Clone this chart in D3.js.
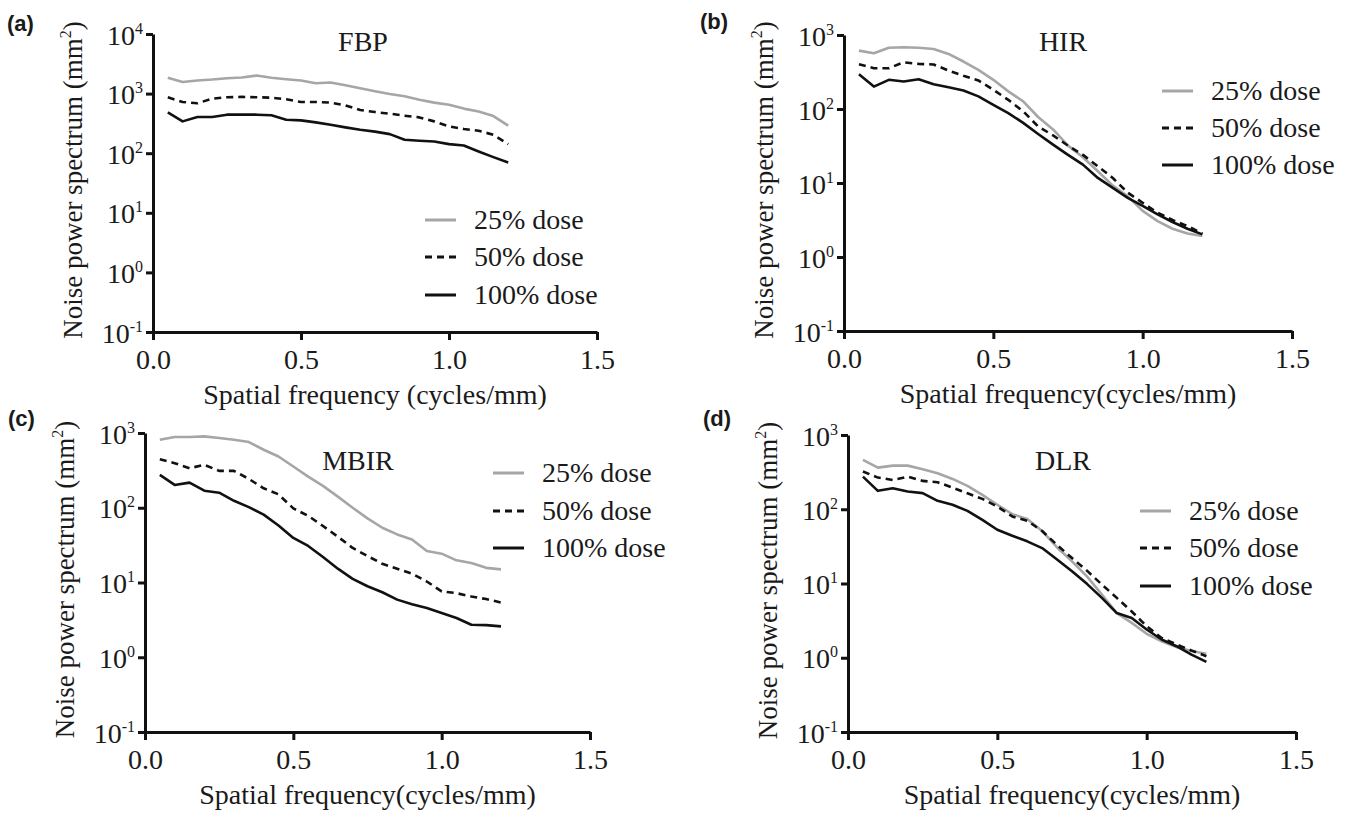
<!DOCTYPE html>
<html>
<head>
<meta charset="utf-8">
<script src="https://cdn.jsdelivr.net/npm/d3@7"></script>
<style>
  body { margin: 0; background: #fff; }
  svg { display: block; }
  text { font-family: "Liberation Serif", Tinos, "Times New Roman", Times, "DejaVu Serif", "Noto Serif", serif; fill: #1a1a1a; }
  text.letter { font-family: "Liberation Sans", Arial, sans-serif; font-weight: bold; font-size: 22px; }
</style>
</head>
<body>
<svg width="1349" height="813"></svg>
<script>
// spatial frequency samples (cycles/mm)
const freq = [0.05, 0.10, 0.15, 0.20, 0.25, 0.30, 0.35, 0.40, 0.45, 0.50, 0.55, 0.60,
              0.65, 0.70, 0.75, 0.80, 0.85, 0.90, 0.95, 1.00, 1.05, 1.10, 1.15, 1.20];

const doseLabels = ["25% dose", "50% dose", "100% dose"];
const xTicks = [0, 0.5, 1.0, 1.5];

// NPS values (mm^2)
const fbp25  = [1840, 1570, 1660, 1720, 1810, 1860, 2010, 1840, 1745, 1660, 1490, 1540, 1380, 1230, 1095, 985, 900, 790, 705, 650, 560, 500, 420, 290];
const fbp50  = [867, 724, 687, 823, 867, 880, 867, 856, 802, 724, 724, 705, 636, 530, 490, 460, 426, 399, 342, 281, 254, 238, 204, 142];
const fbp100 = [484, 342, 405, 405, 443, 443, 443, 432, 364, 355, 329, 300, 271, 248, 230, 209, 168, 162, 157, 142, 135, 107, 86, 70];

const hir25  = [615, 566, 674, 682, 674, 648, 555, 438, 338, 248, 173, 127, 78, 53, 32, 22.3, 14.4, 9.2, 6.6, 4.2, 3.06, 2.41, 2.08, 1.92];
const hir50  = [403, 356, 356, 428, 407, 400, 331, 281, 243, 182, 133, 93, 58, 44, 32, 24, 16.8, 11.7, 7.4, 5.4, 3.96, 3.16, 2.62, 2.08];
const hir100 = [295, 201, 248, 235, 253, 216, 197, 178, 148, 114, 88, 65, 46, 33, 24, 17.7, 11.7, 8.6, 6.3, 4.9, 3.76, 2.97, 2.41, 2.02];

const mbir25  = [813, 883, 883, 902, 857, 813, 757, 597, 485, 356, 261, 196, 141, 100, 72, 54, 44, 37.5, 26.4, 24.3, 19.8, 18.2, 15.7, 15.0];
const mbir50  = [447, 395, 338, 375, 311, 311, 243, 182, 151, 98, 78, 57, 41, 29, 22.6, 17.8, 15.3, 13.1, 10.3, 7.6, 7.2, 6.5, 6.0, 5.4];
const mbir100 = [275, 202, 217, 169, 159, 124, 102, 81, 58, 39.5, 30.8, 21.9, 15.3, 11.2, 8.9, 7.4, 5.9, 5.1, 4.56, 3.9, 3.35, 2.72, 2.69, 2.59];

const dlr25  = [462, 364, 387, 387, 346, 306, 256, 206, 156, 115, 86, 74, 51, 30.6, 19.9, 12.5, 7.1, 4.0, 2.95, 2.1, 1.67, 1.39, 1.23, 1.13];
const dlr50  = [322, 267, 248, 275, 241, 231, 196, 164, 138, 109, 80, 70, 51, 33, 22, 14.9, 9.7, 6.4, 4.2, 2.66, 1.85, 1.51, 1.25, 1.05];
const dlr100 = [275, 177, 192, 173, 165, 130, 115, 95, 72, 53, 44, 37, 30, 21, 14.6, 9.9, 6.4, 4.0, 3.44, 2.4, 1.76, 1.43, 1.1, 0.88];

const seriesStyle = [
  { stroke: "#a6a6a6", dash: null },
  { stroke: "#111", dash: "7,5" },
  { stroke: "#111", dash: null }
];

const panels = [
  { letter: "(a)", lx: 7, ly: 31, title: "FBP", tx: 363, ty: 51, left: 153, right: 597, top: 34, bottom: 332, maxExp: 4,
    series: [fbp25, fbp50, fbp100], legX: 425, legY: [220, 257, 295], xlab: "Spatial frequency (cycles/mm)" },
  { letter: "(b)", lx: 700, ly: 29, title: "HIR", tx: 1063, ty: 51, left: 844, right: 1292, top: 35, bottom: 331, maxExp: 3,
    series: [hir25, hir50, hir100], legX: 1162, legY: [91, 128, 165], xlab: "Spatial frequency(cycles/mm)" },
  { letter: "(c)", lx: 8, ly: 426, title: "MBIR", tx: 358, ty: 470, left: 145, right: 590, top: 433, bottom: 732, maxExp: 3,
    series: [mbir25, mbir50, mbir100], legX: 493, legY: [473, 511, 548], xlab: "Spatial frequency(cycles/mm)" },
  { letter: "(d)", lx: 703, ly: 426, title: "DLR", tx: 1063, ty: 470, left: 848, right: 1296, top: 435, bottom: 732, maxExp: 3,
    series: [dlr25, dlr50, dlr100], legX: 1140, legY: [511, 548, 586], xlab: "Spatial frequency(cycles/mm)" }
];

const svg = d3.select("svg");

panels.forEach(p => {
  const g = svg.append("g");
  const x = d3.scaleLinear().domain([0, 1.5]).range([p.left, p.right]);
  const y = d3.scaleLog().domain([0.1, Math.pow(10, p.maxExp)]).range([p.bottom, p.top]);
  const decades = d3.range(-1, p.maxExp + 1).map(e => Math.pow(10, e));

  // x axis
  const xa = g.append("g")
      .attr("transform", `translate(0,${p.bottom})`)
      .call(d3.axisBottom(x).tickValues(xTicks).tickSize(8).tickSizeOuter(0).tickFormat(d3.format(".1f")));
  xa.attr("font-family", null);
  xa.selectAll("text").attr("y", 0).attr("dy", 37).style("font-size", "28px").attr("fill", "#1a1a1a");

  // y axis
  const ya = g.append("g")
      .attr("transform", `translate(${p.left},0)`)
      .call(d3.axisLeft(y).tickValues(decades).tickSize(7).tickSizeOuter(0).tickFormat(""));
  ya.attr("font-family", null);
  ya.selectAll(".tick").append("text")
      .attr("x", -10).attr("dy", 10)
      .attr("text-anchor", "end")
      .style("font-size", "28px")
      .each(function(d) {
        const t = d3.select(this);
        t.append("tspan").text("10");
        t.append("tspan").attr("dy", -11).style("font-size", "16px").text(Math.round(Math.log10(d)));
      });

  [xa, ya].forEach(a => {
    a.select(".domain").attr("stroke", "#111").attr("stroke-width", 3);
    a.selectAll(".tick line").attr("stroke", "#111").attr("stroke-width", 3);
  });

  // curves
  const line = d3.line().x((d, i) => x(freq[i])).y(d => y(d));
  p.series.forEach((s, k) => {
    g.append("path")
      .datum(s)
      .attr("d", line)
      .attr("fill", "none")
      .attr("stroke", seriesStyle[k].stroke)
      .attr("stroke-width", 2.6)
      .attr("stroke-dasharray", seriesStyle[k].dash)
      .attr("stroke-linejoin", "round");
  });

  // legend
  doseLabels.forEach((lab, k) => {
    g.append("line")
      .attr("x1", p.legX).attr("x2", p.legX + 31)
      .attr("y1", p.legY[k]).attr("y2", p.legY[k])
      .attr("stroke", seriesStyle[k].stroke)
      .attr("stroke-width", 3)
      .attr("stroke-dasharray", seriesStyle[k].dash);
    g.append("text")
      .attr("x", p.legX + 49).attr("y", p.legY[k] + 9)
      .style("font-size", "28px")
      .text(lab);
  });

  // title
  g.append("text").attr("x", p.tx).attr("y", p.ty).attr("text-anchor", "middle")
    .style("font-size", "28px").text(p.title);

  // axis titles
  g.append("text")
    .attr("x", (p.left + p.right) / 2).attr("y", p.bottom + 72)
    .attr("text-anchor", "middle").style("font-size", "28px")
    .text(p.xlab);

  const yl = g.append("text")
    .attr("transform", `translate(${p.left - 71},${(p.top + p.bottom) / 2 - 3}) rotate(-90)`)
    .attr("text-anchor", "middle").style("font-size", "27px");
  yl.append("tspan").text("Noise power spectrum (mm");
  yl.append("tspan").attr("dy", -11).style("font-size", "16px").text("2");
  yl.append("tspan").attr("dy", 11).text(")");

  // panel letter
  svg.append("text").attr("class", "letter").attr("x", p.lx).attr("y", p.ly).text(p.letter);
});
</script>
</body>
</html>
